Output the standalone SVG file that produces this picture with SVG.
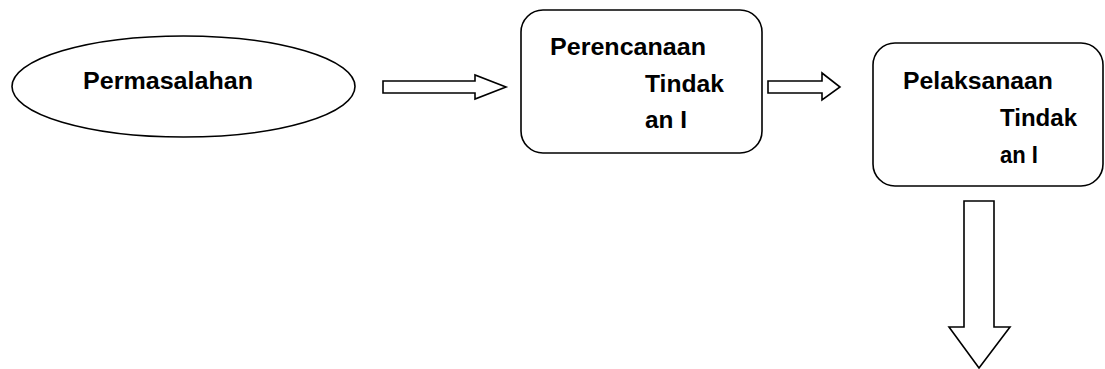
<svg xmlns="http://www.w3.org/2000/svg" width="1105" height="369" viewBox="0 0 1105 369">
<style>
.shape{fill:#fff;stroke:#000;stroke-width:1.6}
.lbl{font-family:"Liberation Sans",Arial,sans-serif;font-weight:bold;font-size:23.5px;fill:#000}
</style>
<rect width="1105" height="369" fill="#fff"/>
<g id="node-permasalahan">
<ellipse class="shape" cx="183.5" cy="86.5" rx="171.5" ry="50.5"/>
<text class="lbl" x="83" y="89" textLength="170" lengthAdjust="spacingAndGlyphs">Permasalahan</text>
</g>
<g id="node-perencanaan">
<rect class="shape" x="521" y="10" width="241" height="143" rx="22" ry="22"/>
<text class="lbl" x="550" y="55" textLength="156" lengthAdjust="spacingAndGlyphs">Perencanaan</text>
<text class="lbl" x="645" y="92" textLength="79" lengthAdjust="spacingAndGlyphs">Tindak</text>
<text class="lbl" x="645" y="128" textLength="42" lengthAdjust="spacingAndGlyphs">an I</text>
</g>
<g id="node-pelaksanaan">
<rect class="shape" x="873" y="43" width="230" height="143" rx="22" ry="22"/>
<text class="lbl" x="903" y="89" textLength="150" lengthAdjust="spacingAndGlyphs">Pelaksanaan</text>
<text class="lbl" x="1000" y="126" textLength="77" lengthAdjust="spacingAndGlyphs">Tindak</text>
<text class="lbl" x="1000" y="163" textLength="38" lengthAdjust="spacingAndGlyphs">an I</text>
</g>
<g id="connectors">
<polygon class="shape" points="383,81 475,81 475,75 506,87 475,99 475,93 383,93"/>
<polygon class="shape" points="768,81 822,81 822,73 840,87 822,100 822,93 768,93"/>
<polygon class="shape" points="964,201 994,201 994,327 1010,327 979,368 949,327 964,327"/>
</g>
</svg>
